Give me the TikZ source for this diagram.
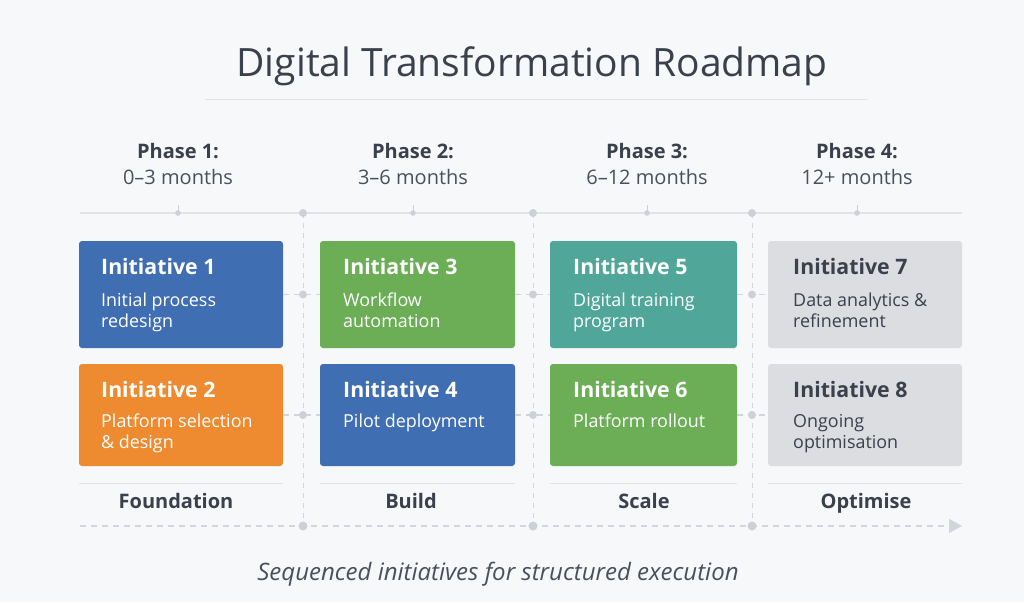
\documentclass[tikz,border=0pt]{standalone}
\usepackage{fontspec}
\setmainfont{Open Sans}
\usetikzlibrary{positioning,arrows.meta}
\definecolor{bgcol}{HTML}{F7F8FA}
\definecolor{inkdark}{HTML}{3A404C}
\definecolor{inkmid}{HTML}{4A505B}
\definecolor{rulecol}{HTML}{E1E3E7}
\definecolor{dashcol}{HTML}{D2D5DA}
\definecolor{dotcol}{HTML}{CDD0D6}
\definecolor{blueinit}{HTML}{3F6EB3}
\definecolor{orangeinit}{HTML}{EE8A2F}
\definecolor{greeninit}{HTML}{6BAE56}
\definecolor{tealinit}{HTML}{4FA699}
\definecolor{grayinit}{HTML}{DCDDE0}
\begin{document}
\begin{tikzpicture}
  [x=1pt,y=-1pt,
   box/.style={draw=none, rounded corners=3pt, inner sep=0pt},
   head/.style={anchor=base west, inner sep=0pt, text=white, font=\bfseries\fontsize{21.3}{24}\selectfont},
   desc/.style={anchor=base west, inner sep=0pt, text=white, align=left, font=\fontsize{17.9}{21}\selectfont},
   phase/.style={anchor=base, inner sep=0pt, text=inkdark, font=\bfseries\fontsize{20}{22}\selectfont},
   months/.style={anchor=base, inner sep=0pt, text=inkmid, font=\fontsize{20}{22}\selectfont},
   stage/.style={anchor=base, inner sep=0pt, text=inkdark, font=\bfseries\fontsize{20}{22}\selectfont},
   conn/.style={draw=dashcol, line width=1.5pt, dash pattern=on 6pt off 5pt},
   sepdot/.style={fill=dotcol}]
  \useasboundingbox[fill=bgcol] (0,0) rectangle (1024,602);

  % title
  \node[inner sep=0pt, anchor=base, text=inkdark, font=\fontsize{39}{42}\selectfont] (title) at (532,76) {Digital Transformation Roadmap};
  \draw[rulecol, line width=1pt] (205,99) -- (868,99);

  % phases
  \node[phase] (p1) at (178,158) {Phase 1:};
  \node[phase] (p2) at (413,158) {Phase 2:};
  \node[phase] (p3) at (647,158) {Phase 3:};
  \node[phase] (p4) at (857,158) {Phase 4:};
  \node[months] (m1) at (178,184) {0–3 months};
  \node[months] (m2) at (413,184) {3–6 months};
  \node[months] (m3) at (647,184) {6–12 months};
  \node[months] (m4) at (857,184) {12+ months};

  % top timeline
  \coordinate (tl0) at (80,213);
  \coordinate (tl1) at (962,213);
  \draw[rulecol, line width=1.3pt] (tl0) -- (tl1);
  \foreach \x in {178,413,647,857} {
    \draw[dotcol, line width=1pt] (\x,205) -- (\x,213);
    \fill[dotcol] (\x,213) circle (2.8);
  }

  % separators
  \coordinate (s1top) at (303,213);
  \coordinate (s2top) at (533,213);
  \coordinate (s3top) at (752,213);
  \coordinate (s1bot) at (303,526);
  \coordinate (s2bot) at (533,526);
  \coordinate (s3bot) at (752,526);
  \foreach \s in {s1,s2,s3}
    \draw[dashcol, line width=1pt, dash pattern=on 5pt off 5pt] (\s top) -- (\s bot);

  % initiatives
  \node[box, fill=blueinit, minimum width=204pt, minimum height=107pt] (init1) at (181,294.5) {};
  \node[box, fill=orangeinit, minimum width=204pt, minimum height=102pt] (init2) at (181,415) {};
  \node[box, fill=greeninit, minimum width=195pt, minimum height=107pt] (init3) at (417.5,294.5) {};
  \node[box, fill=blueinit, minimum width=195pt, minimum height=102pt] (init4) at (417.5,415) {};
  \node[box, fill=tealinit, minimum width=187pt, minimum height=107pt] (init5) at (643.5,294.5) {};
  \node[box, fill=greeninit, minimum width=187pt, minimum height=102pt] (init6) at (643.5,415) {};
  \node[box, fill=grayinit, minimum width=194pt, minimum height=107pt] (init7) at (865,294.5) {};
  \node[box, fill=grayinit, minimum width=194pt, minimum height=102pt] (init8) at (865,415) {};

  % two-line texts are placed by their last baseline
  \node[head] at (101,274) {Initiative 1};
  \node[desc] at (101,327) {Initial process\\redesign};
  \node[head] at (101,397) {Initiative 2};
  \node[desc] at (101,448) {Platform selection\\\& design};
  \node[head] at (343,274) {Initiative 3};
  \node[desc] at (343,327) {Workflow\\automation};
  \node[head] at (343,397) {Initiative 4};
  \node[desc] at (343,427) {Pilot deployment};
  \node[head] at (573,274) {Initiative 5};
  \node[desc] at (573,327) {Digital training\\program};
  \node[head] at (573,397) {Initiative 6};
  \node[desc] at (573,427) {Platform rollout};
  \node[head, text=inkdark] at (793,274) {Initiative 7};
  \node[desc, text=inkdark] at (793,327) {Data analytics \&\\refinement};
  \node[head, text=inkdark] at (793,397) {Initiative 8};
  \node[desc, text=inkdark] at (793,448) {Ongoing\\optimisation};

  % connectors
  \foreach \from/\to in {init1/init3, init3/init5, init5/init7, init2/init4, init4/init6, init6/init8}
    \draw[conn] (\from.east) -- (\to.west);
  \foreach \y in {294.5,415}
    \foreach \x in {303,533,752}
      \fill[sepdot] (\x,\y) circle (4);

  % stages
  \foreach \x/\w in {181/102, 417.5/97.5, 643.5/93.5, 865/97}
    \draw[rulecol, line width=1pt] (\x-\w,483) -- (\x+\w,483);
  \node[stage] (st1) at (176,508) {Foundation};
  \node[stage] (st2) at (411,508) {Build};
  \node[stage] (st3) at (644,508) {Scale};
  \node[stage] (st4) at (866,508) {Optimise};

  % bottom timeline
  \coordinate (bt0) at (80,526);
  \coordinate (bt1) at (962,526);
  \draw[conn, -{Triangle[length=13pt,width=14pt,fill=dashcol]}] (bt0) -- (bt1);
  \foreach \s in {s1,s2,s3} {
    \fill[sepdot] (\s top) circle (4);
    \fill[sepdot] (\s bot) circle (4.5);
  }

  \node[inner sep=0pt, anchor=base, text=inkmid, font=\itshape\fontsize{24}{28}\selectfont] (caption) at (498,580) {Sequenced initiatives for structured execution};
\end{tikzpicture}
\end{document}
